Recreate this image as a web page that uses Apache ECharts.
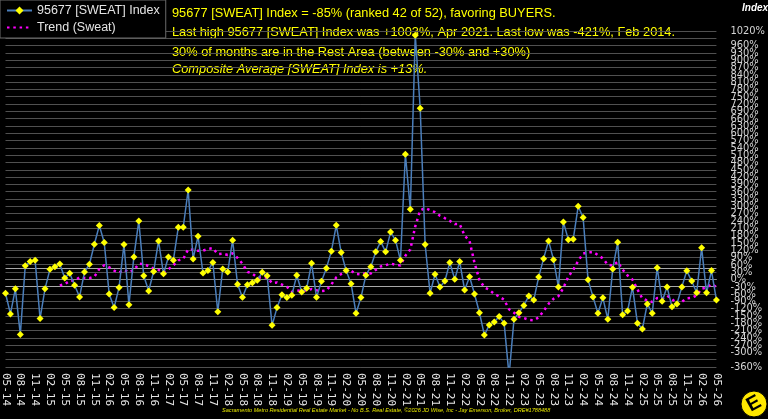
<!DOCTYPE html>
<html>
<head>
<meta charset="utf-8">
<script src="https://cdn.jsdelivr.net/npm/echarts@6/dist/echarts.min.js"></script>
<style>
html,body{margin:0;padding:0;background:#000;}
#chart{width:768px;height:419px;}
</style>
</head>
<body>
<div id="chart"></div>
<script>
// Month categories (MM-YY), May 2014 .. May 2026
const categories = [
  "05-14","06-14","07-14","08-14","09-14","10-14","11-14","12-14",
  "01-15","02-15","03-15","04-15","05-15","06-15","07-15","08-15","09-15","10-15","11-15","12-15",
  "01-16","02-16","03-16","04-16","05-16","06-16","07-16","08-16","09-16","10-16","11-16","12-16",
  "01-17","02-17","03-17","04-17","05-17","06-17","07-17","08-17","09-17","10-17","11-17","12-17",
  "01-18","02-18","03-18","04-18","05-18","06-18","07-18","08-18","09-18","10-18","11-18","12-18",
  "01-19","02-19","03-19","04-19","05-19","06-19","07-19","08-19","09-19","10-19","11-19","12-19",
  "01-20","02-20","03-20","04-20","05-20","06-20","07-20","08-20","09-20","10-20","11-20","12-20",
  "01-21","02-21","03-21","04-21","05-21","06-21","07-21","08-21","09-21","10-21","11-21","12-21",
  "01-22","02-22","03-22","04-22","05-22","06-22","07-22","08-22","09-22","10-22","11-22","12-22",
  "01-23","02-23","03-23","04-23","05-23","06-23","07-23","08-23","09-23","10-23","11-23","12-23",
  "01-24","02-24","03-24","04-24","05-24","06-24","07-24","08-24","09-24","10-24","11-24","12-24",
  "01-25","02-25","03-25","04-25","05-25","06-25","07-25","08-25","09-25","10-25","11-25","12-25",
  "01-26","02-26","03-26","04-26","05-26"
];

// 95677 [SWEAT] Index, percent
const sweatIndex = [
  -57,-142,-39,-227,56,73,78,-161,
  -39,41,52,63,6,25,-24,-72,30,62,144,221,
  151,-60,-116,-33,143,-104,92,240,15,-48,32,158,
  23,92,78,214,214,367,84,177,26,36,69,-133,
  43,30,161,-20,-74,-22,-14,-4,29,15,-189,-116,
  -63,-75,-65,17,-52,-37,66,-74,-8,46,115,222,
  110,36,-18,-139,-75,17,52,113,155,113,194,161,
  78,514,288,1003,703,143,-57,21,-31,-7,69,0,
  73,-44,11,-60,-137,-229,-187,-175,-153,-180,-395,-164,
  -137,-107,-68,-85,10,85,158,81,-31,236,163,165,
  300,254,-2,-72,-139,-76,-164,43,152,-145,-130,-32,
  -180,-204,-101,-139,48,-90,-31,-113,-101,-31,35,-7,
  -55,130,-55,36,-85
];

// Trend (Sweat), percent
const trendSweat = [
  null,null,null,null,null,null,null,null,
  null,null,null,-25,-20,-6,-5,8,6,5,11,42,
  58,50,36,28,39,29,38,64,63,54,44,39,
  29,41,57,78,84,123,122,117,118,125,128,104,
  106,100,107,88,64,31,23,8,8,7,-15,-13,
  -22,-31,-50,-47,-45,-46,-40,-45,-48,-46,-21,8,
  22,31,35,22,20,25,24,39,53,58,65,60,
  57,97,123,218,283,293,284,276,261,251,240,227,
  227,180,157,68,-2,-33,-43,-60,-70,-84,-123,-137,
  -154,-159,-166,-168,-156,-130,-101,-80,-69,-35,12,39,
  76,106,111,112,100,86,60,56,72,40,16,-1,
  -41,-79,-87,-93,-77,-79,-67,-80,-102,-92,-78,-76,
  -66,-38,-34,-20,-31
];

// reference lines
const refLines = [45, -27];

const infoLines = [
  "95677 [SWEAT] Index = -85% (ranked 42 of 52), favoring BUYERS.",
  "Last high 95677 [SWEAT] Index was +1003%, Apr 2021. Last low was -421%, Feb 2014.",
  "30% of months are in the Rest Area (between -30% and +30%)",
  "Composite Average [SWEAT] Index is +13%."
];
const footer = "Sacramento Metro Residential Real Estate Market - No B.S. Real Estate, \u00A92026 JD Wise, Inc - Jay Emerson, Broker, DRE#1788488";

const chart = echarts.init(document.getElementById('chart'), null, {renderer:'canvas'});
const sans = "'Liberation Sans', Arial, 'DejaVu Sans', sans-serif";

chart.setOption({
  animation: false,
  backgroundColor: '#000000',
  legend: {
    left: 0, top: 0,
    orient: 'vertical',
    backgroundColor: '#000000',
    borderColor: '#6a6a6a',
    borderWidth: 1,
    padding: [4, 6, 4, 6],
    itemWidth: 25,
    itemHeight: 10,
    itemGap: 4,
    textStyle: {color: '#e4e4e4', fontSize: 12.5, fontFamily: sans},
    data: [
      {name: '95677 [SWEAT] Index'},
      {name: 'Trend (Sweat)', itemStyle: {opacity: 0}}
    ]
  },
  grid: {left: 2.7, right: 45.3, top: 31, bottom: 52, containLabel: false},
  xAxis: {
    type: 'category',
    data: categories,
    boundaryGap: false,
    axisLine: {show: true, lineStyle: {color: '#8a8a8a', width: 1}},
    axisTick: {show: false},
    axisLabel: {
      interval: 2,
      rotate: -90,
      margin: 6,
      color: '#e6e6e6',
      fontSize: 11,
      fontFamily: "'DejaVu Sans Mono', monospace"
    },
    splitLine: {show: false}
  },
  yAxis: {
    type: 'value',
    position: 'right',
    min: -360, max: 1020, interval: 30,
    axisLine: {show: false},
    axisTick: {show: false},
    axisLabel: {
      formatter: function (v) { return v + '%'; },
      margin: 14,
      showMaxLabel: true,
      showMinLabel: true,
      color: '#d4d4d4',
      fontSize: 11,
      fontFamily: "'Liberation Sans Narrow', 'DejaVu Sans Condensed', Arial, sans-serif"
    },
    splitLine: {show: true, lineStyle: {color: '#505050', width: 1}}
  },
  series: [
    {
      name: '95677 [SWEAT] Index',
      type: 'line',
      data: sweatIndex,
      symbol: 'diamond',
      symbolSize: 7,
      showAllSymbol: true,
      itemStyle: {color: '#ffff00'},
      lineStyle: {color: '#4a7ebb', width: 1.5},
      z: 3,
      markLine: {
        silent: true,
        symbol: 'none',
        label: {show: false},
        lineStyle: {color: '#a8a8a8', width: 1, type: 'solid'},
        data: refLines.map(v => ({yAxis: v})),
        z: 1
      }
    },
    {
      name: 'Trend (Sweat)',
      type: 'line',
      data: trendSweat,
      symbol: 'none',
      connectNulls: false,
      itemStyle: {color: '#ff00ff'},
      lineStyle: {color: '#ff00ff', width: 2.5, type: [2.5, 3.8], cap: 'butt'},
      z: 2
    }
  ],
  graphic: [
    {type: 'text', left: 172, top: 7, style: {text: infoLines[0], fill: '#ffff00', font: '12.8px ' + sans}},
    {type: 'text', left: 172, top: 25.5, style: {text: infoLines[1], fill: '#ffff00', font: '12.8px ' + sans}},
    {type: 'text', left: 172, top: 45.5, style: {text: infoLines[2], fill: '#ffff00', font: '12.8px ' + sans}},
    {type: 'text', left: 172, top: 62.5, style: {text: infoLines[3], fill: '#ffff00', font: 'italic 12.8px ' + sans}},
    {type: 'text', left: 742, top: 3, style: {text: 'Index', fill: '#ffffff', font: 'italic bold 10px ' + sans}},
    {type: 'text', left: 222, top: 407, style: {text: footer, fill: '#e8e800', font: 'italic 5.6px ' + sans}},
    {type: 'circle', shape: {cx: 754, cy: 404, r: 13}, style: {fill: '#ffe800', stroke: '#000', lineWidth: 1}},
    {type: 'text', x: 754, y: 404, rotation: 0.5, style: {text: 'E', fill: '#000000', font: 'bold 20px ' + sans, align: 'center', verticalAlign: 'middle'}}
  ]
});
</script>
</body>
</html>
